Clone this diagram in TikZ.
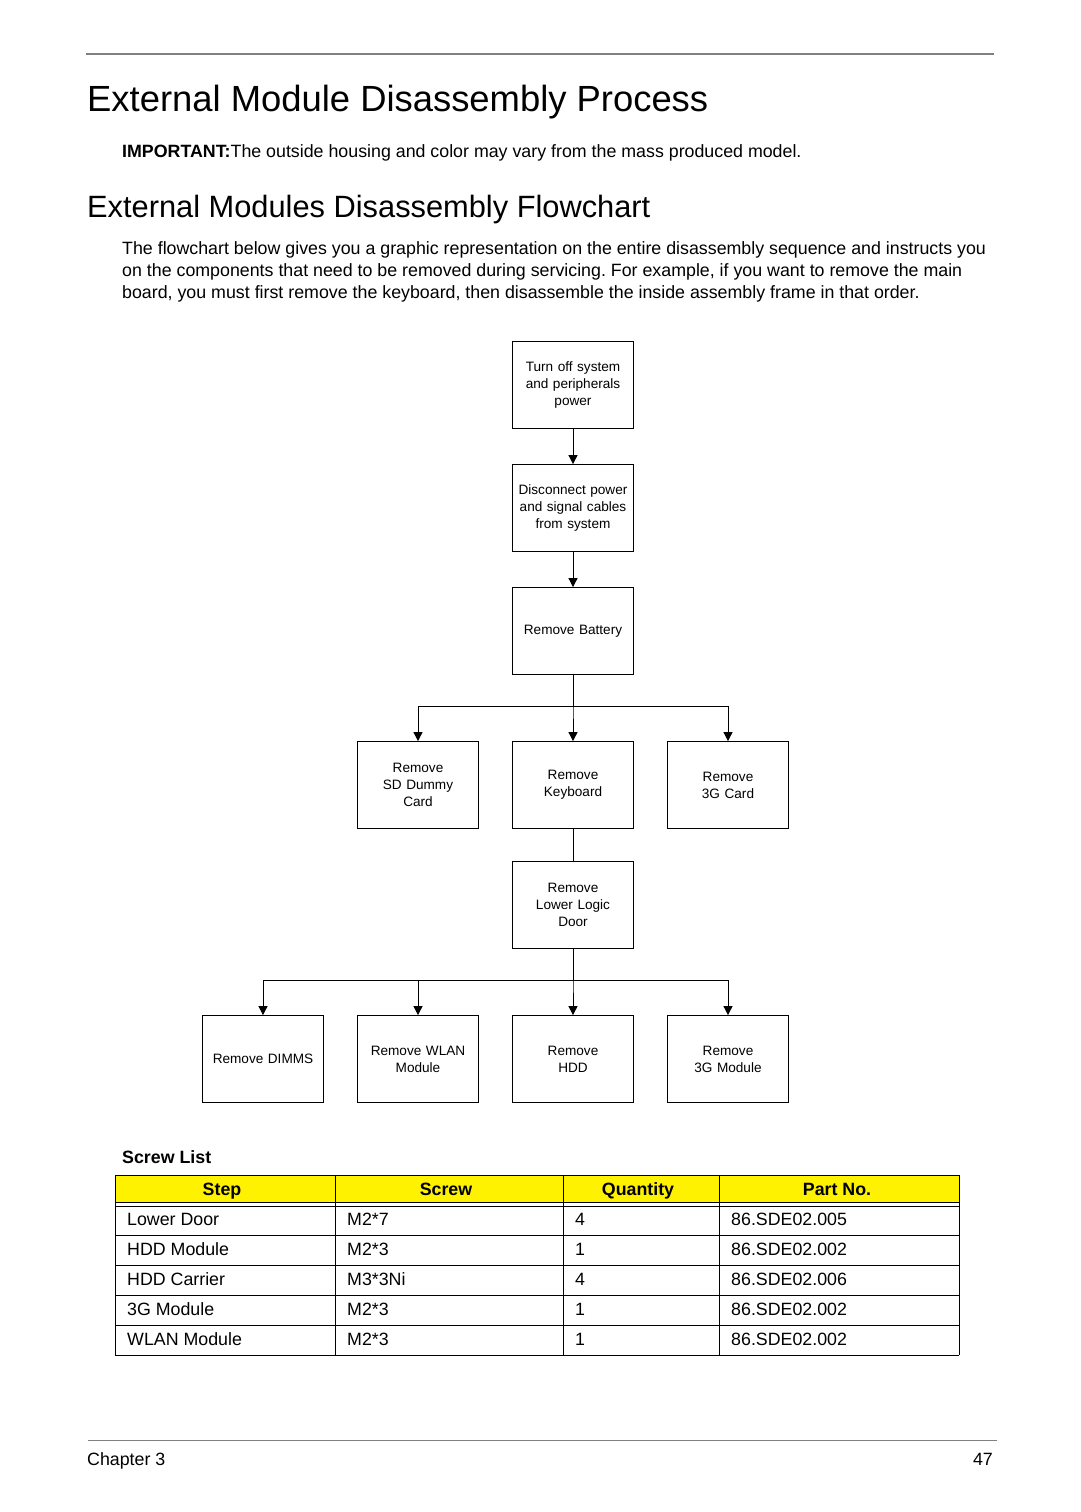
\documentclass[tikz,border=0pt]{standalone}
\usepackage{fontspec}
\setmainfont{Liberation Sans}
\usetikzlibrary{positioning,arrows.meta}
\frenchspacing

\begin{document}
\begin{tikzpicture}[x=1pt,y=-1pt,
				stepbox/.style={draw,rectangle,minimum width=119pt,minimum height=87pt,
					text width=114pt,align=center,line width=0.8pt,
					font=\fontsize{13.6}{17}\selectfont},
				arr/.style={-{Triangle[length=9pt,width=9pt]},line width=0.8pt},
				txt/.style={inner sep=0pt,anchor=base west,font=\fontsize{17.8}{22}\selectfont}]
\useasboundingbox (0,0) rectangle (1080,1512);
% page head
\draw[gray,line width=1.5pt] (86,54) -- (994,54);
\node[txt,font=\fontsize{36.4}{40}\selectfont] (title) at (87,111) {External Module Disassembly Process};
\node[txt] (note) at (122,157) {\textbf{IMPORTANT:}The outside housing and color may vary from the mass produced model.};
\node[txt,font=\fontsize{30.8}{34}\selectfont] (head) at (87,217) {External Modules Disassembly Flowchart};
\node[txt] (intro1) at (122,254) {The flowchart below gives you a graphic representation on the entire disassembly sequence and instructs you};
\node[txt] (intro2) at (122,276) {on the components that need to be removed during servicing. For example, if you want to remove the main};
\node[txt] (intro3) at (122,298) {board, you must first remove the keyboard, then disassemble the inside assembly frame in that order.};
% flowchart
\node[stepbox] (power) at (573,385) {Turn off system\\and peripherals\\power};
\node[stepbox] (cables) at (573,508) {Disconnect power\\and signal cables\\from system};
\node[stepbox] (battery) at (573,631) {Remove Battery};
\node[stepbox] (sdcard) at (418,785) {Remove\\SD Dummy\\Card};
\node[stepbox] (keyboard) at (573,785) {Remove\\Keyboard};
\node[stepbox] (card3g) at (728,785) {Remove\\3G Card};
\node[stepbox] (door) at (573,905) {Remove\\Lower Logic\\Door};
\node[stepbox] (dimms) at (263,1059) {Remove DIMMS};
\node[stepbox] (wlan) at (418,1059) {Remove WLAN\\Module};
\node[stepbox] (hdd) at (573,1059) {Remove\\HDD};
\node[stepbox] (module3g) at (728,1059) {Remove\\3G Module};
\draw[arr] (power) -- (cables);
\draw[arr] (cables) -- (battery);
\foreach \n in {sdcard,keyboard,card3g}
	\draw[arr] (battery.south) -- ++(0,31) -| (\n.north);
\draw[line width=0.8pt] (keyboard) -- (door);
\foreach \n in {dimms,wlan,hdd,module3g}
	\draw[arr] (door.south) -- ++(0,31) -| (\n.north);
% screw list
\node[txt,font=\bfseries\fontsize{17.8}{22}\selectfont] (screwlist) at (122,1163) {Screw List};
\fill[yellow] (115,1175) rectangle (959,1202);
\foreach \y in {1175,1202,1206,1235,1265,1295,1325,1355}
	\draw[line width=0.8pt] (115,\y) -- (959,\y);
\foreach \x in {115,335,563,719,959}
	\draw[line width=0.8pt] (\x,1175) -- (\x,1355);
\foreach \t [count=\i] in {Step,Screw,Quantity,Part No.}{
	\pgfmathsetmacro{\cx}{{222,446,638,837}[\i-1]}
	\node[inner sep=0pt,anchor=base,font=\bfseries\fontsize{17.8}{22}\selectfont] (hd\i) at (\cx,1195) {\t};
}
\foreach \a/\b/\c/\d [count=\r] in {Lower Door/M2*7/4/86.SDE02.005,
		HDD Module/M2*3/1/86.SDE02.002,
		HDD Carrier/M3*3Ni/4/86.SDE02.006,
		3G Module/M2*3/1/86.SDE02.002,
		WLAN Module/M2*3/1/86.SDE02.002}{
	\node[txt] (step\r) at (127,1195+30*\r) {\a};
	\node[txt] (screw\r) at (347,1195+30*\r) {\b};
	\node[txt] (qty\r) at (575,1195+30*\r) {\c};
	\node[txt] (part\r) at (731,1195+30*\r) {\d};
}
% page foot
\draw[gray,line width=1pt] (88,1440) -- (997,1440);
\node[txt] (chapter) at (87,1465) {Chapter 3};
\node[txt,anchor=base east] (page) at (993,1465) {47};
\end{tikzpicture}
\end{document}
